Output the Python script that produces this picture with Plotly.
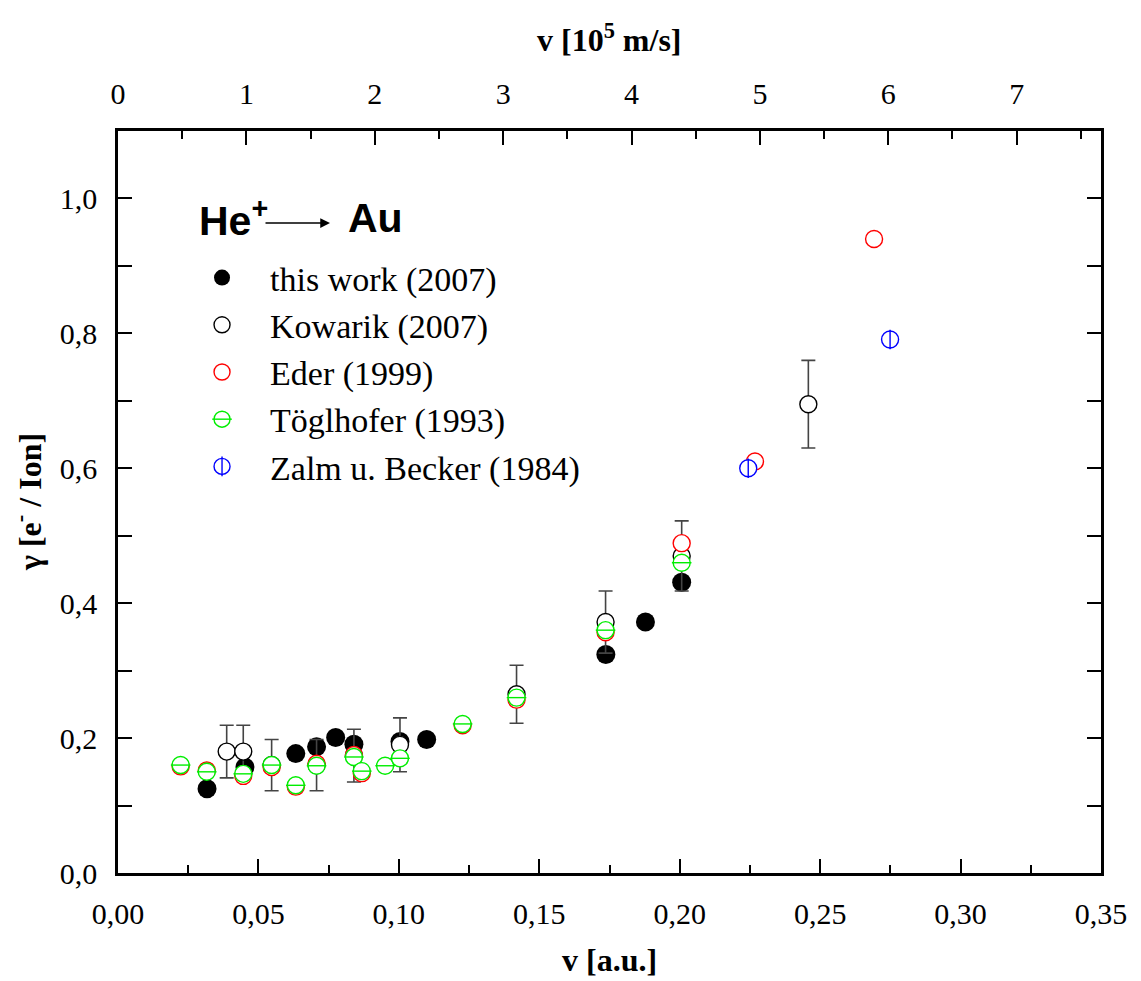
import plotly.graph_objects as go

# He+ -> Au : electron emission yield vs. projectile velocity
AU_TO_1E5_MS = 21.877  # 1 a.u. of velocity = 2.1877e6 m/s

this_work_v = [0.0317, 0.0452, 0.0633, 0.0707, 0.0775, 0.0840, 0.1004, 0.1099, 0.1737, 0.1878, 0.2007]
this_work_g = [0.125, 0.157, 0.177, 0.187, 0.201, 0.191, 0.195, 0.198, 0.324, 0.372, 0.431]

kowarik_v = [0.0387, 0.0446, 0.0547, 0.0707, 0.0840, 0.1004, 0.1419, 0.1736, 0.2007, 0.2458]
kowarik_g = [0.180, 0.180, 0.160, 0.160, 0.174, 0.190, 0.265, 0.372, 0.470, 0.695]
kowarik_err = [0.039, 0.039, 0.038, 0.038, 0.039, 0.040, 0.043, 0.046, 0.052, 0.065]

eder_v = [0.0223, 0.0316, 0.0446, 0.0547, 0.0633, 0.0707, 0.0840, 0.0868, 0.1227, 0.1419, 0.1736, 0.2007, 0.2268, 0.2692]
eder_g = [0.158, 0.152, 0.144, 0.157, 0.128, 0.162, 0.175, 0.148, 0.219, 0.257, 0.357, 0.489, 0.610, 0.940]

toegl_v = [0.0223, 0.0316, 0.0446, 0.0547, 0.0633, 0.0707, 0.0840, 0.0868, 0.0951, 0.1004, 0.1227, 0.1419, 0.1736, 0.2007]
toegl_g = [0.160, 0.150, 0.147, 0.160, 0.130, 0.159, 0.172, 0.151, 0.159, 0.170, 0.221, 0.260, 0.360, 0.460]

zalm_v = [0.2244, 0.2749]
zalm_g = [0.600, 0.791]

names = ["this work (2007)", "Kowarik (2007)", "Eder (1999)", "Töglhofer (1993)", "Zalm u. Becker (1984)"]

SERIF = "Liberation Serif, Times New Roman, serif"
SANS = "Liberation Sans, Arial, sans-serif"
GREEN = "#00ee00"
OPEN_SIZE = 17
BAR_SIZE = 14
LW = 1.4

fig = go.Figure()

fig.add_trace(go.Scatter(
    x=this_work_v, y=this_work_g, mode="markers", name=names[0],
    marker=dict(symbol="circle", size=19, color="black", line=dict(width=0)),
))
fig.add_trace(go.Scatter(
    x=kowarik_v, y=kowarik_g, mode="markers", name=names[1],
    marker=dict(symbol="circle", size=OPEN_SIZE, color="white", line=dict(color="black", width=LW)),
    error_y=dict(type="data", array=kowarik_err, visible=True, color="#444444", thickness=1.6, width=7),
))
fig.add_trace(go.Scatter(
    x=eder_v, y=eder_g, mode="markers", name=names[2],
    marker=dict(symbol="circle", size=OPEN_SIZE, color="white", line=dict(color="red", width=LW)),
))
fig.add_trace(go.Scatter(
    x=toegl_v, y=toegl_g, mode="markers", name=names[3],
    marker=dict(symbol="circle", size=OPEN_SIZE, color="white", line=dict(color=GREEN, width=LW)),
))
fig.add_trace(go.Scatter(
    x=toegl_v, y=toegl_g, mode="markers", name=names[3], legend="legend2",
    marker=dict(symbol="line-ew", size=BAR_SIZE, line=dict(color=GREEN, width=LW)),
))
fig.add_trace(go.Scatter(
    x=zalm_v, y=zalm_g, mode="markers", name=names[4],
    marker=dict(symbol="circle", size=OPEN_SIZE, color="white", line=dict(color="blue", width=LW)),
))
fig.add_trace(go.Scatter(
    x=zalm_v, y=zalm_g, mode="markers", name=names[4], legend="legend2",
    marker=dict(symbol="line-ns", size=BAR_SIZE, line=dict(color="blue", width=LW)),
))
# spacer entries so the bar glyphs of legend2 sit on the rows of the main legend
for rank, nm in enumerate(names[:3]):
    fig.add_trace(go.Scatter(
        x=[None], y=[None], mode="markers", name=nm, legend="legend2", legendrank=rank,
        marker=dict(symbol="circle", size=OPEN_SIZE, color="rgba(0,0,0,0)", line=dict(width=0)),
        hoverinfo="skip",
    ))
fig.data[4].legendrank = 3
fig.data[6].legendrank = 4

# dummy trace to carry the upper velocity axis
fig.add_trace(go.Scatter(
    x=[0, 0.35 * AU_TO_1E5_MS], y=[None, None], xaxis="x2", mode="markers",
    showlegend=False, hoverinfo="skip",
))

axis_common = dict(
    showline=True, linecolor="black", linewidth=2.5,
    ticks="inside", tickcolor="black", tickwidth=2, ticklen=14,
    showgrid=False, zeroline=False, automargin=False,
    tickfont=dict(family=SERIF, size=30, color="black"),
    ticklabelstandoff=12,
)
minor_common = dict(ticks="inside", ticklen=8, tickwidth=2, tickcolor="black")

leg_common = dict(
    x=0.057, y=0.841, xanchor="left", yanchor="top",
    bgcolor="rgba(0,0,0,0)", borderwidth=0, itemwidth=86,
    traceorder="normal",
)

fig.update_layout(
    width=1141, height=981,
    margin=dict(l=118, r=40, t=131, b=108),
    paper_bgcolor="white", plot_bgcolor="white",
    separators=",.",
    xaxis=dict(
        **axis_common, range=[0, 0.35], dtick=0.05, tick0=0, tickformat=".2f",
        minor=dict(dtick=0.025, **minor_common),
    ),
    xaxis2=dict(
        **axis_common, overlaying="x", side="top", anchor="y",
        range=[0, 0.35 * AU_TO_1E5_MS], dtick=1, tick0=0, tickformat="d",
        minor=dict(dtick=0.5, **minor_common),
    ),
    yaxis=dict(
        **axis_common, range=[0, 1.1], dtick=0.2, tick0=0, tickformat=".1f", mirror="allticks",
        minor=dict(dtick=0.1, **minor_common),
    ),
    legend=dict(**leg_common, font=dict(family=SERIF, size=34, color="black")),
    legend2=dict(**leg_common, font=dict(family=SERIF, size=34, color="rgba(0,0,0,0)")),
    showlegend=True,
)

# axis titles
title_font = dict(family=SERIF, size=32, color="black")
fig.add_annotation(
    xref="paper", yref="paper", x=0.5, y=(873 - 960) / 742, xanchor="center", yanchor="middle",
    showarrow=False, text="<b>v [a.u.]</b>", font=title_font,
)
fig.add_annotation(
    xref="paper", yref="paper", x=0.5, y=(873 - 38) / 742, xanchor="center", yanchor="middle",
    showarrow=False, text="<b>v [10<sup>5</sup> m/s]</b>", font=title_font,
)
fig.add_annotation(
    xref="paper", yref="paper", x=(28 - 118) / 983, y=0.5, xanchor="center", yanchor="middle",
    showarrow=False, textangle=-90, text="<b>γ [e<sup>-</sup> / Ion]</b>", font=title_font,
)

# reaction label: He+ ----> Au
fig.add_annotation(
    xref="paper", yref="paper", x=(197 - 118) / 983, y=(873 - 218) / 742,
    xanchor="left", yanchor="middle", showarrow=False,
    text="<b>He<sup>+</sup></b>", font=dict(family=SANS, size=41, color="black"),
)
fig.add_annotation(
    xref="paper", yref="paper", x=(330 - 118) / 983, y=(873 - 223) / 742,
    ax=-66, ay=0, axref="pixel", ayref="pixel", text="",
    showarrow=True, arrowhead=2, arrowsize=1.3, arrowwidth=1.5, arrowcolor="black",
)
fig.add_annotation(
    xref="paper", yref="paper", x=(346 - 118) / 983, y=(873 - 218) / 742,
    xanchor="left", yanchor="middle", showarrow=False,
    text="<b>Au</b>", font=dict(family=SANS, size=41, color="black"),
)

fig.write_html("out.html")
